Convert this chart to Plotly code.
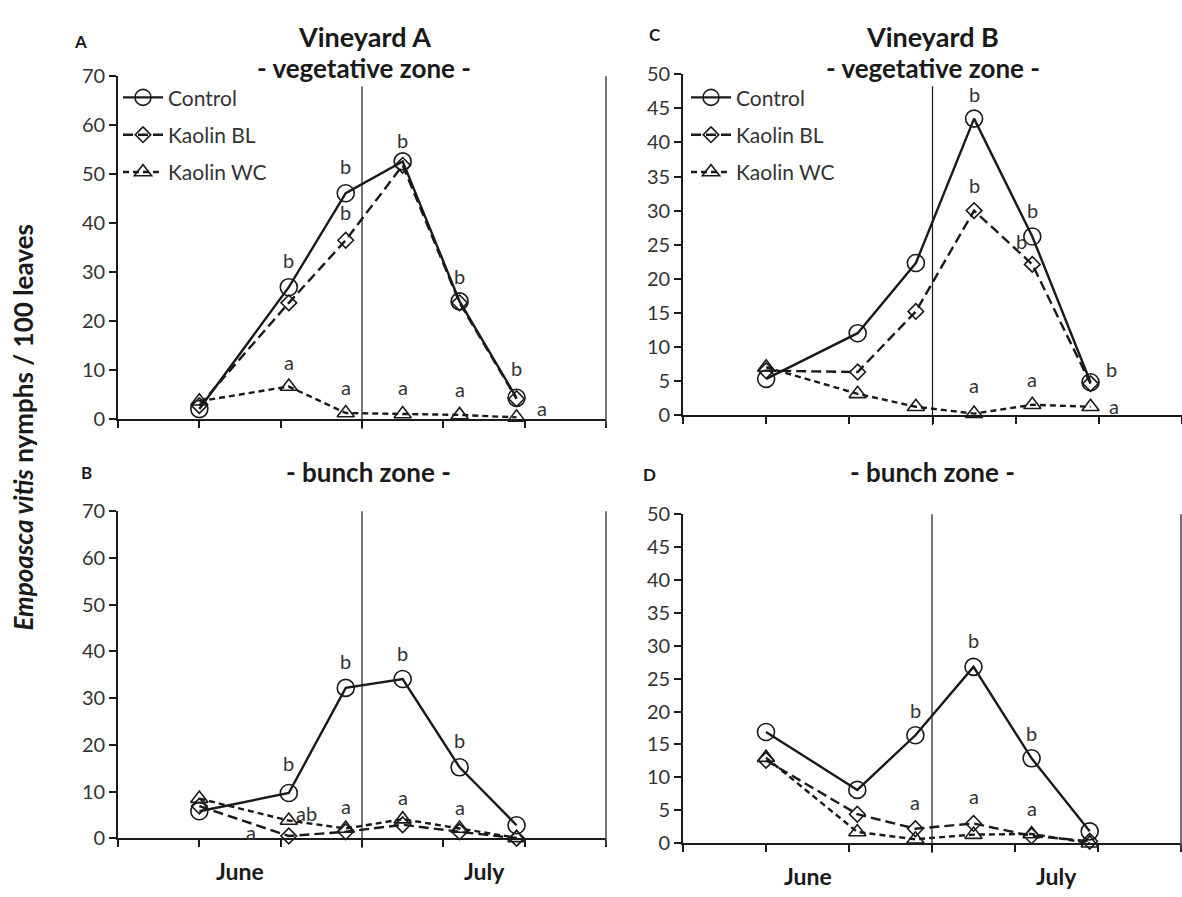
import plotly.graph_objects as go

# Sampling dates (same six visits in both vineyards)
dates = ["2010-06-11", "2010-06-22", "2010-06-29", "2010-07-06", "2010-07-13", "2010-07-20"]
x_range = ["2010-06-01", "2010-07-31"]
x_ticks = ["2010-06-01", "2010-06-11", "2010-06-21", "2010-07-01",
           "2010-07-11", "2010-07-21", "2010-07-31"]
month_split = "2010-07-01"
month_names = ["June", "July"]
month_pos = ["2010-06-16", "2010-07-16"]

series_names = ["Control", "Kaolin BL", "Kaolin WC"]

# Nymphs / 100 leaves
a_control = [2.0, 26.9, 46.1, 52.6, 24.0, 4.3]
a_bl = [2.7, 23.7, 36.5, 51.8, 23.7, 4.1]
a_wc = [3.6, 6.6, 1.2, 1.0, 0.8, 0.3]

c_control = [5.3, 12.0, 22.3, 43.5, 26.2, 4.8]
c_bl = [6.5, 6.3, 15.2, 30.0, 22.1, 4.6]
c_wc = [7.0, 3.1, 1.2, 0.2, 1.5, 1.2]

b_control = [5.8, 9.7, 32.2, 34.1, 15.2, 2.8]
b_bl = [6.9, 0.5, 1.4, 2.9, 1.4, 0.0]
b_wc = [8.5, 3.8, 2.1, 4.1, 2.1, 0.1]

d_control = [16.9, 8.1, 16.4, 26.8, 12.9, 1.8]
d_bl = [12.6, 4.4, 2.2, 3.0, 1.1, 0.3]
d_wc = [13.0, 1.7, 0.6, 1.3, 1.4, 0.0]

# Significance letters: (series index, visit index, letter, dx px, dy px)
a_letters = [(0, 1, "b", 0, 27), (0, 2, "b", 0, 27), (0, 3, "b", 0, 21), (0, 4, "b", 0, 25),
             (0, 5, "b", 0, 30), (1, 2, "b", 0, 28), (2, 1, "a", 0, 25), (2, 2, "a", 0, 26),
             (2, 3, "a", 0, 27), (2, 4, "a", 0, 26), (2, 5, "a", 25, 9)]
c_letters = [(0, 3, "b", 0, 25), (1, 3, "b", 0, 26), (0, 4, "b", 0, 26), (1, 4, "b", -11, 23),
             (0, 5, "b", 21, 13), (2, 3, "a", 0, 29), (2, 4, "a", 0, 26), (2, 5, "a", 23, 1)]
b_letters = [(0, 1, "b", 0, 30), (0, 2, "b", 0, 27), (0, 3, "b", 0, 26), (0, 4, "b", 0, 27),
             (2, 1, "ab", 18, 8), (1, 1, "a", -38, 4), (2, 2, "a", 0, 23), (2, 3, "a", 0, 22),
             (2, 4, "a", 0, 22)]
d_letters = [(0, 2, "b", 0, 25), (0, 3, "b", 0, 27), (0, 4, "b", 0, 25), (1, 2, "a", 0, 27),
             (1, 3, "a", 0, 27), (1, 4, "a", 0, 28)]

FONT = "Lato, 'Open Sans', sans-serif"
INK = "#1a1a1a"
TXT = "#333333"

W, H = 1182, 897


def px_x(p):
    return min(max(p / W, 0.0), 1.0)


def px_y(p):
    return min(max(1 - p / H, 0.0), 1.0)


panels = [
    dict(xa="x", ya="y", xd=(118, 606), yd=(417, 65), ymax=70, dtick=10,
         data=(a_control, a_bl, a_wc), letters=a_letters, legend="legend", top=0.97, border=True),
    dict(xa="x2", ya="y2", xd=(683, 1182), yd=(413, 63), ymax=50, dtick=5,
         data=(c_control, c_bl, c_wc), letters=c_letters, legend="legend2", top=0.965, border=False),
    dict(xa="x3", ya="y3", xd=(118, 606), yd=(848, 512), ymax=70, dtick=10,
         data=(b_control, b_bl, b_wc), letters=b_letters, legend=None, top=1.0, border=True),
    dict(xa="x4", ya="y4", xd=(683, 1181), yd=(853, 515), ymax=50, dtick=5,
         data=(d_control, d_bl, d_wc), letters=d_letters, legend=None, top=1.0, border=True),
]

styles = [
    dict(dash="solid", symbol="circle-open", size=17, width=2.4),
    dict(dash="10px,5px", symbol="diamond-open", size=12, width=2.4),
    dict(dash="6px,4px", symbol="triangle-up-open", size=15, width=2.4),
]

fig = go.Figure()
annotations = []
shapes = []
layout_axes = {}

for i, p in enumerate(panels):
    n = "" if i == 0 else str(i + 1)
    for s, (name, vals, st) in enumerate(zip(series_names, p["data"], styles)):
        tr = dict(
            x=dates, y=vals, name=name, mode="lines+markers",
            xaxis=p["xa"], yaxis=p["ya"],
            line=dict(color=INK, width=st["width"], dash=st["dash"]),
            marker=dict(symbol=st["symbol"], size=st["size"], color=INK,
                        line=dict(color=INK, width=1.6)),
            cliponaxis=False,
            showlegend=p["legend"] is not None,
            legendgroup=f"{p['legend']}_{s}",
        )
        if p["legend"] is not None:
            tr["legend"] = p["legend"]
        fig.add_trace(go.Scatter(**tr))

    layout_axes["xaxis" + n] = dict(
        type="date", range=x_range, domain=[px_x(p["xd"][0]), px_x(p["xd"][1])],
        anchor=p["ya"], showgrid=False, zeroline=False, showline=True,
        linecolor=INK, linewidth=2, ticks="outside", ticklen=7, tickwidth=1.5,
        tickcolor=INK, tickmode="array", tickvals=x_ticks, showticklabels=False,
        fixedrange=True,
    )
    layout_axes["yaxis" + n] = dict(
        range=[0, p["ymax"]], domain=[px_y(p["yd"][0]), px_y(p["yd"][1])],
        anchor=p["xa"], showgrid=False, zeroline=False, showline=True,
        linecolor=INK, linewidth=1.6, ticks="outside", ticklen=7, tickwidth=1.5,
        tickcolor=INK, dtick=p["dtick"], tick0=0,
        tickfont=dict(family=FONT, size=20, color=TXT), fixedrange=True,
    )

    # June / July separator
    shapes.append(dict(type="line", xref=p["xa"], yref=p["ya"] + " domain",
                       x0=month_split, x1=month_split, y0=-0.03, y1=p["top"],
                       line=dict(color=INK, width=1.2)))
    # right frame of the plot area
    if p["border"]:
        shapes.append(dict(type="line", xref=p["xa"] + " domain", yref=p["ya"] + " domain",
                           x0=1, x1=1, y0=-0.02, y1=1.0, line=dict(color="#444444", width=1.5)))

    # significance letters
    for s, k, letter, dx, dy in p["letters"]:
        annotations.append(dict(
            x=dates[k], y=p["data"][s][k], xref=p["xa"], yref=p["ya"],
            text=letter, showarrow=False, xshift=dx, yshift=dy,
            font=dict(family=FONT, size=20, color=TXT),
            xanchor="center", yanchor="middle",
        ))

    # month names under the bottom panels
    if i >= 2:
        for m, mx in zip(month_names, month_pos):
            annotations.append(dict(
                x=mx, y=0, xref=p["xa"], yref=p["ya"], text=f"<b>{m}</b>",
                showarrow=False, yshift=-33, xanchor="center", yanchor="middle",
                font=dict(family=FONT, size=23, color=INK),
            ))


def paper_text(x, y, text, size, color=INK, angle=0):
    annotations.append(dict(
        x=px_x(x), y=px_y(y), xref="paper", yref="paper", text=text,
        showarrow=False, xanchor="center", yanchor="middle", textangle=angle,
        font=dict(family=FONT, size=size, color=color),
    ))


paper_text(364, 24, "<b>Vineyard A</b>", 27)
paper_text(364, 57, "<b>- vegetative zone -</b>", 26)
paper_text(932, 24, "<b>Vineyard B</b>", 27)
paper_text(933, 57, "<b>- vegetative zone -</b>", 26)
paper_text(368, 472, "<b>- bunch zone -</b>", 26)
paper_text(932, 472, "<b>- bunch zone -</b>", 26)
paper_text(80, 29, "<b>A</b>", 17)
paper_text(655, 22, "<b>C</b>", 17)
paper_text(86, 472, "<b>B</b>", 17)
paper_text(650, 474, "<b>D</b>", 17)
paper_text(23, 426, "<b><i>Empoasca vitis</i> nymphs / 100 leaves</b>", 26, angle=-90)

legend_style = dict(
    font=dict(family=FONT, size=21, color=TXT), bgcolor="rgba(0,0,0,0)",
    borderwidth=0, tracegroupgap=7, itemwidth=40,
    xanchor="left", yanchor="top", itemclick=False, itemdoubleclick=False,
)

fig.update_layout(
    width=W, height=H, margin=dict(l=0, r=0, t=0, b=0),
    paper_bgcolor="white", plot_bgcolor="white",
    annotations=annotations, shapes=shapes,
    legend=dict(x=px_x(118), y=px_y(66), **legend_style),
    legend2=dict(x=px_x(686), y=px_y(66), **legend_style),
    **layout_axes,
)

fig.write_html("out.html")
